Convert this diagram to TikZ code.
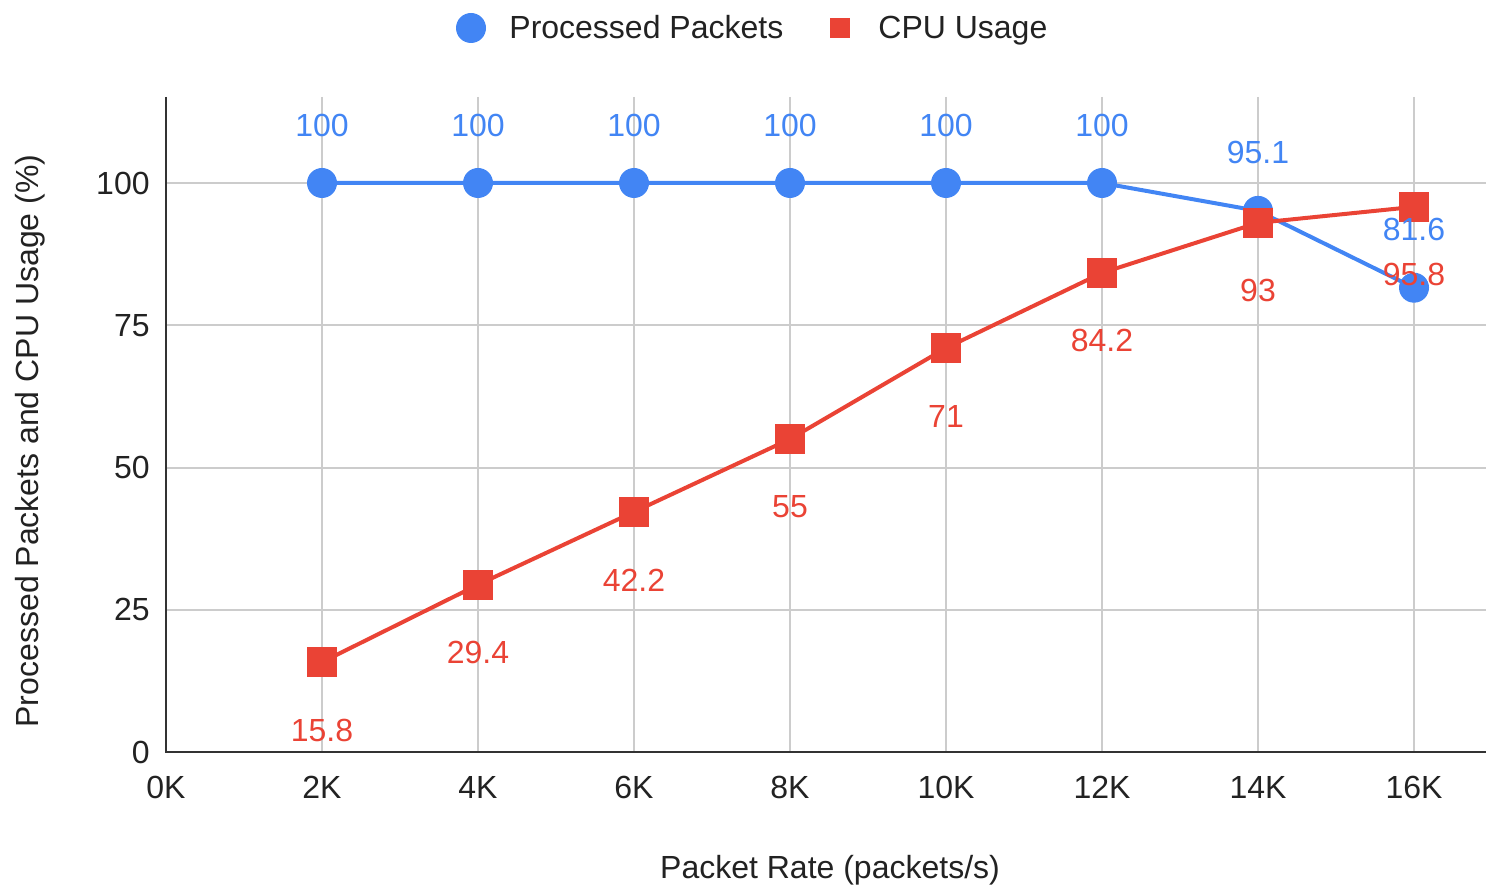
\documentclass[tikz,border=0pt]{standalone}
\usepackage{fontspec}
\setmainfont{Liberation Sans}
\definecolor{gblue}{HTML}{4285F4}
\definecolor{gred}{HTML}{EA4335}
\definecolor{gridc}{HTML}{CCCCCC}
\definecolor{axisc}{HTML}{333333}
\definecolor{txtc}{HTML}{222222}
\begin{document}
\begin{tikzpicture}[x=0.5pt,y=-0.5pt,
  font=\fontsize{16}{19}\selectfont,
  gridline/.style={draw=gridc,line width=1pt},
  axisline/.style={draw=axisc,line width=1pt},
  ticklabel/.style={text=txtc,inner sep=0pt},
  bdot/.style={circle,fill=gblue,minimum size=15pt,inner sep=0pt},
  rsq/.style={rectangle,fill=gred,minimum size=15pt,inner sep=0pt},
  bline/.style={draw=gblue,line width=2pt},
  rline/.style={draw=gred,line width=2pt},
  blab/.style={text=gblue,inner sep=0pt},
  rlab/.style={text=gred,inner sep=0pt}]
\useasboundingbox (0,0) rectangle (1486,887);
% grid
\foreach \v in {25,50,75,100}
  \draw[gridline] (166,{752-5.69*\v}) -- (1486,{752-5.69*\v});
\foreach \k in {2,4,...,16}
  \draw[gridline] ({166+78*\k},97) -- ({166+78*\k},752);
% axes
\draw[axisline] (166,97) -- (166,752) -- (1486,752);
% tick labels
\foreach \v in {0,25,50,75,100}
  \node[ticklabel,anchor=east] at (150,{752-5.69*\v}) {\v};
\foreach \k in {0,2,...,16}
  \node[ticklabel] at ({166+78*\k},787) {\k K};
% axis titles
\node[ticklabel,rotate=90] (ytitle) at (30,441) {Processed Packets and CPU Usage (\%)};
\node[ticklabel] (xtitle) at (830,870) {Packet Rate (packets/s)};
% legend
\node[circle,fill=gblue,minimum size=15pt,inner sep=0pt] (legb) at (471,28) {};
\node[ticklabel,anchor=base west] (legbt) at (509,39) {Processed Packets};
\node[rectangle,fill=gred,minimum size=10pt,inner sep=0pt] (legr) at (840,28) {};
\node[ticklabel,anchor=base west] (legrt) at (878,39) {CPU Usage};
% series points
\foreach \k/\v in {2/100,4/100,6/100,8/100,10/100,12/100,14/95.1,16/81.6}
  \coordinate (bp\k) at ({166+78*\k},{752-5.69*\v});
\foreach \k/\v in {2/15.8,4/29.4,6/42.2,8/55,10/71,12/84.2,14/93,16/95.8}
  \coordinate (rp\k) at ({166+78*\k},{752-5.69*\v});
\draw[bline,line join=round] (bp2) -- (bp4) -- (bp6) -- (bp8) -- (bp10) -- (bp12) -- (bp14) -- (bp16);
\foreach \k in {2,4,...,16}
  \node[bdot] (b\k) at (bp\k) {};
\draw[rline,line join=round] (rp2) -- (rp4) -- (rp6) -- (rp8) -- (rp10) -- (rp12) -- (rp14) -- (rp16);
\foreach \k in {2,4,...,16}
  \node[rsq] (r\k) at (rp\k) {};
% labels
\foreach \k/\v in {2/100,4/100,6/100,8/100,10/100,12/100,14/95.1,16/81.6}
  \node[blab] (bl\k) at ([yshift=29pt]bp\k) {\v};
\foreach \k/\v in {2/15.8,4/29.4,6/42.2,8/55,10/71,12/84.2,14/93,16/95.8}
  \node[rlab] (rl\k) at ([yshift=-34pt]rp\k) {\v};
\end{tikzpicture}
\end{document}
